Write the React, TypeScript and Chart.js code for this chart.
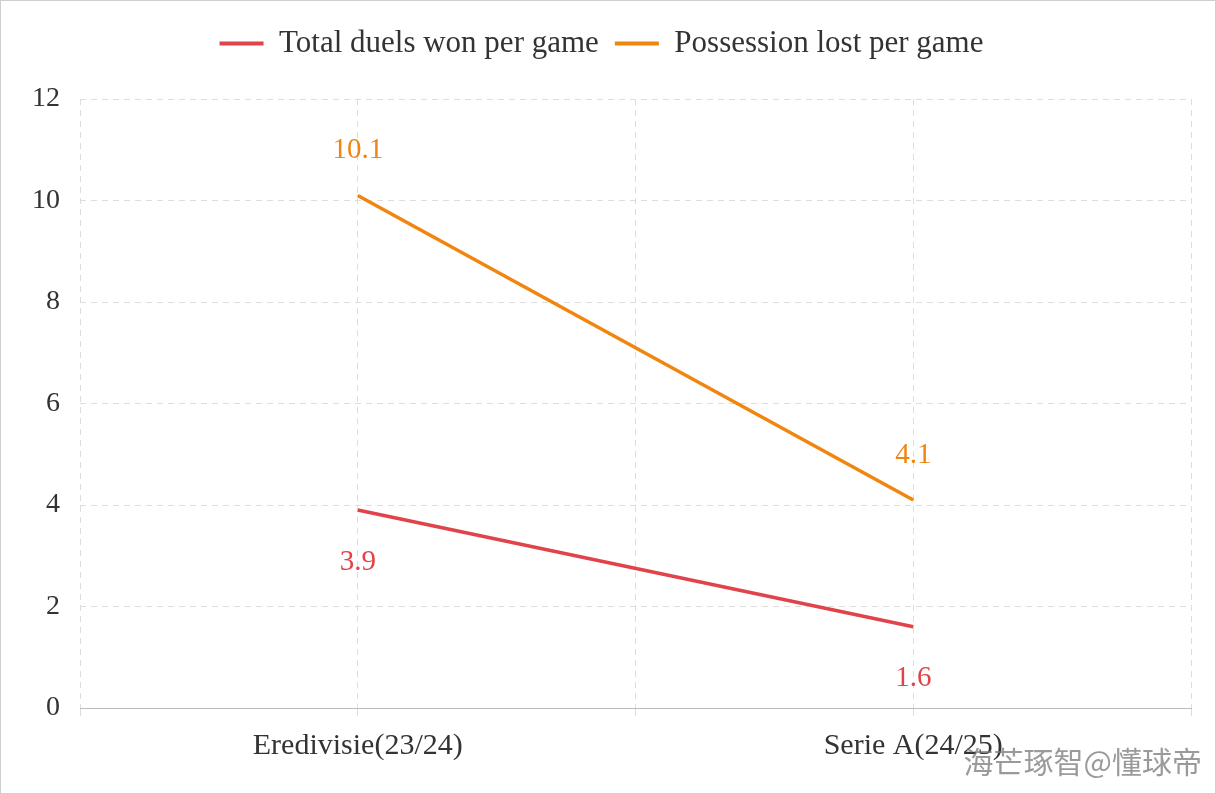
import React, { useEffect, useRef } from "react";
import { Chart, registerables } from "chart.js";
Chart.register(...registerables);

const categories = ["Eredivisie(23/24)", "Serie A(24/25)"];
const duelsWon = [3.9, 1.6];
const possessionLost = [10.1, 4.1];

const labelPlugin = {
  id: "valueLabels",
  afterDatasetsDraw(chart: any) {
    const ctx = chart.ctx;
    chart.data.datasets.forEach((ds: any, i: number) => {
      const meta = chart.getDatasetMeta(i);
      meta.data.forEach((pt: any, j: number) => {
        ctx.save();
        ctx.fillStyle = ds.borderColor;
        ctx.font = '29px "Liberation Serif"';
        ctx.textAlign = "center";
        ctx.textBaseline = "middle";
        const dy = i === 1 ? -45 : 52;
        ctx.fillText(String(ds.data[j].y), pt.x, pt.y + dy);
        ctx.restore();
      });
    });
  },
};

const legendSpace = {
  id: "legendSpace",
  afterInit(chart: any) {
    const lg = chart.legend;
    const orig = lg.fit;
    lg.fit = function () {
      orig.call(lg);
      this.height += 30;
    };
  },
};

export default function App() {
  const ref = useRef<HTMLCanvasElement>(null);
  useEffect(() => {
    const chart = new Chart(ref.current!, {
      type: "line",
      data: {
        datasets: [
          {
            label: "Total duels won per game",
            data: duelsWon.map((y, i) => ({ x: i, y })),
            borderColor: "#e0434a",
            backgroundColor: "#e0434a",
            borderWidth: 3.5,
            pointRadius: 0,
          },
          {
            label: "Possession lost per game",
            data: possessionLost.map((y, i) => ({ x: i, y })),
            borderColor: "#f0850f",
            backgroundColor: "#f0850f",
            borderWidth: 3.5,
            pointRadius: 0,
          },
        ],
      },
      options: {
        animation: false,
        responsive: false,
        layout: { padding: { top: 12, right: 25, left: 12, bottom: 18 } },
        plugins: {
          tooltip: { enabled: false },
          legend: {
            labels: {
              boxWidth: 44,
              boxHeight: 0,
              font: { family: "Liberation Serif", size: 31 },
              color: "#333",
              padding: 16,
              generateLabels: (c: any) =>
                c.data.datasets.map((d: any, i: number) => ({
                  text: d.label,
                  strokeStyle: d.borderColor,
                  fillStyle: d.borderColor,
                  lineWidth: 4,
                  datasetIndex: i,
                  fontColor: "#333",
                })),
            },
          },
        },
        scales: {
          x: {
            type: "linear",
            min: -0.5,
            max: 1.5,
            ticks: {
              stepSize: 0.5,
              autoSkip: false,
              maxRotation: 0,
              color: "#333",
              font: { family: "Liberation Serif", size: 30 },
              padding: 12,
              callback: (v: any) => (Number.isInteger(v) ? categories[v] : ""),
            },
            grid: { color: "#dddddd", tickLength: 8, drawTicks: true },
            border: { display: true, color: "#bbbbbb" },
          },
          y: {
            min: 0,
            max: 12,
            ticks: {
              stepSize: 2,
              color: "#333",
              font: { family: "Liberation Serif", size: 28 },
              padding: 20,
            },
            grid: { color: "#dddddd", drawTicks: false },
            border: { display: false, dash: [6, 5] },
          },
        },
      },
      plugins: [labelPlugin, legendSpace],
    } as any);
    (chart.options.scales as any).x.border.dash = [6, 5];
    chart.update();
    return () => chart.destroy();
  }, []);
  return (
    <div style={{ position: "fixed", left: 0, top: 0, width: 1216, height: 794, background: "#fff" }}>
      <div style={{ position: "absolute", left: 0, top: 0, width: 1214, height: 792, border: "1px solid #cfcfcf" }} />
      <canvas ref={ref} width={1216} height={794} style={{ position: "absolute", left: 0, top: 0 }} />
      <div style={{ position: "absolute", right: 14, bottom: 12, fontFamily: "Noto Sans CJK SC", fontSize: 30, color: "rgba(120,120,120,0.75)" }}>
        海芒琢智@懂球帝
      </div>
    </div>
  );
}
